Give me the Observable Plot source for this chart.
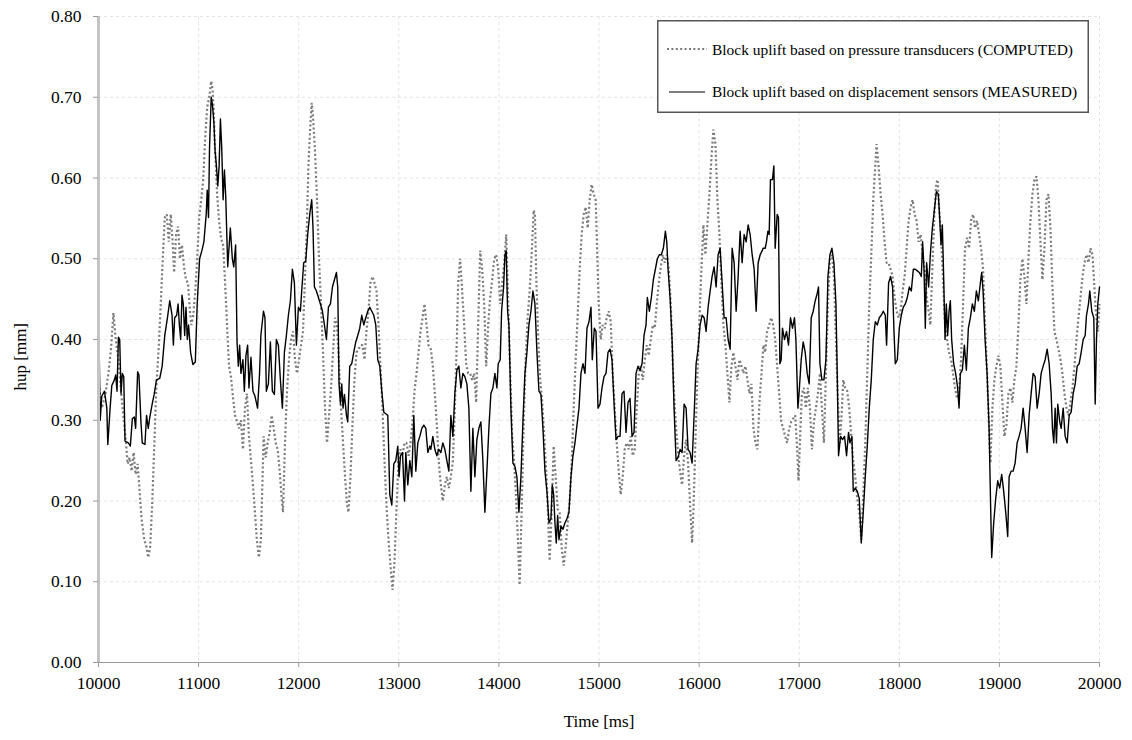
<!DOCTYPE html>
<html><head><meta charset="utf-8">
<script src="https://cdn.jsdelivr.net/npm/d3@7"></script>
<script src="https://cdn.jsdelivr.net/npm/@observablehq/plot@0.6"></script>
<style>
body{margin:0;background:#fff;}
#wrap{position:relative;width:1132px;height:740px;}
#legend{position:absolute;left:657px;top:20px;}
</style></head><body><div id="wrap"></div>
<script>
// Block uplift measured by displacement sensors: [time ms, uplift mm]
const measured = [
[10007,0.386],[10017,0.30],[10033,0.33],[10060,0.336],[10083,0.315],[10093,0.27],[10116,0.315],[10133,0.343],[10159,0.35],[10172,0.356],[10185,0.336],[10199,0.403],[10212,0.40],[10225,0.333],[10238,0.358],[10252,0.354],[10265,0.274],[10298,0.272],[10318,0.268],[10338,0.302],[10358,0.304],[10371,0.29],[10391,0.36],[10404,0.356],[10424,0.298],[10437,0.272],[10464,0.27],[10480,0.306],[10497,0.29],[10513,0.304],[10536,0.32],[10556,0.332],[10579,0.35],[10612,0.352],[10636,0.367],[10662,0.405],[10689,0.427],[10712,0.448],[10735,0.43],[10748,0.393],[10761,0.427],[10781,0.43],[10795,0.444],[10808,0.418],[10821,0.40],[10834,0.455],[10847,0.444],[10861,0.405],[10874,0.44],[10887,0.40],[10900,0.418],[10920,0.384],[10943,0.369],[10967,0.372],[10986,0.444],[11010,0.50],[11033,0.51],[11053,0.521],[11076,0.555],[11086,0.585],[11099,0.551],[11109,0.637],[11126,0.70],[11139,0.69],[11152,0.67],[11165,0.633],[11178,0.615],[11192,0.59],[11205,0.615],[11218,0.673],[11231,0.637],[11245,0.573],[11258,0.61],[11271,0.577],[11291,0.49],[11317,0.538],[11337,0.50],[11351,0.49],[11370,0.517],[11384,0.397],[11397,0.367],[11410,0.393],[11423,0.358],[11443,0.375],[11457,0.336],[11473,0.38],[11490,0.393],[11503,0.34],[11523,0.378],[11543,0.336],[11563,0.33],[11589,0.315],[11609,0.358],[11622,0.405],[11648,0.435],
[11663,0.427],[11677,0.336],[11697,0.345],[11717,0.397],[11737,0.336],[11757,0.332],[11777,0.40],[11797,0.393],[11817,0.35],[11837,0.315],[11857,0.384],[11877,0.405],[11897,0.43],[11917,0.448],[11937,0.487],[11957,0.47],[11977,0.393],[11997,0.44],[12017,0.435],[12030,0.46],[12050,0.495],[12070,0.497],[12090,0.53],[12110,0.555],[12130,0.573],[12143,0.538],[12157,0.465],[12177,0.46],[12197,0.452],[12217,0.444],[12237,0.435],[12257,0.418],[12277,0.40],[12297,0.44],[12317,0.444],[12337,0.465],[12357,0.474],[12377,0.483],[12390,0.465],[12403,0.345],[12417,0.32],[12430,0.345],[12443,0.315],[12457,0.332],[12477,0.306],[12490,0.298],[12510,0.367],[12530,0.37],[12550,0.384],[12570,0.397],[12590,0.405],[12610,0.414],[12630,0.43],[12650,0.418],[12670,0.427],[12690,0.435],[12710,0.44],[12730,0.435],[12750,0.43],[12770,0.418],[12790,0.375],[12810,0.367],[12830,0.336],[12850,0.31],[12870,0.308],[12890,0.306],[12910,0.208],[12930,0.195],[12950,0.246],[12970,0.25],[12990,0.268],[13003,0.23],[13017,0.256],[13037,0.26],[13057,0.20],[13070,0.26],[13090,0.22],[13110,0.25],[13130,0.23],[13150,0.306],[13170,0.237],[13190,0.272],[13210,0.28],[13230,0.29],[13250,0.294],[13270,0.29],[13290,0.26],[13310,0.268],
[13320,0.264],[13340,0.28],[13360,0.264],[13380,0.256],[13400,0.264],[13420,0.26],[13440,0.272],[13460,0.264],[13480,0.25],[13500,0.237],[13520,0.306],[13540,0.28],[13560,0.333],[13580,0.362],[13600,0.367],[13620,0.34],[13640,0.358],[13660,0.354],[13680,0.345],[13700,0.315],[13720,0.212],[13740,0.29],[13760,0.23],[13780,0.276],[13800,0.29],[13820,0.298],[13840,0.25],[13860,0.186],[13880,0.237],[13900,0.29],[13920,0.333],[13940,0.34],[13960,0.358],[13980,0.34],[13993,0.37],[14013,0.375],[14027,0.435],[14047,0.465],[14060,0.505],[14073,0.51],[14087,0.435],[14100,0.418],[14120,0.315],[14140,0.247],[14160,0.243],[14180,0.23],[14200,0.186],[14220,0.23],[14240,0.298],[14260,0.358],[14280,0.384],[14300,0.418],[14320,0.435],[14340,0.46],[14360,0.444],[14380,0.384],[14400,0.336],[14420,0.332],[14440,0.29],[14460,0.237],[14480,0.212],[14500,0.173],[14520,0.178],[14533,0.22],[14547,0.208],[14560,0.173],[14573,0.148],[14587,0.182],[14600,0.152],[14620,0.169],[14640,0.165],[14660,0.173],[14680,0.178],[14700,0.186],[14720,0.23],[14740,0.256],[14760,0.272],[14780,0.294],[14800,0.315],[14820,0.358],[14840,0.37],[14860,0.358],[14880,0.414],[14900,0.422],[14920,0.44],[14933,0.375],[14953,0.414],
[14970,0.41],[14990,0.315],[15010,0.32],[15030,0.34],[15050,0.354],[15070,0.358],[15090,0.384],[15110,0.388],[15130,0.375],[15150,0.322],[15170,0.276],[15190,0.28],[15210,0.28],[15230,0.333],[15250,0.336],[15270,0.285],[15290,0.322],[15310,0.327],[15330,0.28],[15350,0.285],[15370,0.358],[15390,0.367],[15410,0.362],[15430,0.37],[15450,0.405],[15470,0.418],[15483,0.452],[15503,0.435],[15523,0.452],[15543,0.474],[15563,0.487],[15583,0.50],[15603,0.505],[15623,0.505],[15643,0.513],[15663,0.534],[15677,0.521],[15690,0.487],[15710,0.452],[15730,0.40],[15750,0.315],[15770,0.25],[15790,0.254],[15810,0.264],[15830,0.26],[15850,0.32],[15870,0.315],[15890,0.264],[15910,0.26],[15930,0.247],[15950,0.306],[15970,0.37],[15990,0.388],[16010,0.418],[16030,0.43],[16050,0.427],[16070,0.41],[16090,0.44],[16110,0.46],[16130,0.478],[16150,0.49],[16170,0.465],[16190,0.505],[16210,0.513],[16230,0.47],[16250,0.427],[16270,0.427],[16290,0.40],[16310,0.388],[16330,0.513],[16350,0.495],[16370,0.435],[16390,0.478],[16410,0.534],[16430,0.495],[16450,0.53],[16470,0.521],[16490,0.542],[16510,0.53],[16530,0.505],[16550,0.487],[16570,0.435],[16590,0.495],[16610,0.505],[16630,0.51],
[16640,0.513],[16660,0.513],[16673,0.521],[16687,0.534],[16700,0.53],[16713,0.598],[16733,0.598],[16747,0.615],[16760,0.513],[16780,0.555],[16793,0.551],[16807,0.37],[16820,0.375],[16833,0.414],[16853,0.40],[16873,0.41],[16893,0.393],[16913,0.427],[16933,0.414],[16953,0.427],[16967,0.40],[16987,0.315],[17000,0.336],[17020,0.375],[17040,0.397],[17060,0.384],[17080,0.358],[17100,0.345],[17120,0.427],[17140,0.435],[17160,0.448],[17180,0.457],[17193,0.465],[17207,0.37],[17227,0.35],[17247,0.35],[17267,0.375],[17287,0.478],[17307,0.505],[17327,0.513],[17347,0.495],[17367,0.444],[17380,0.358],[17393,0.256],[17413,0.28],[17433,0.276],[17453,0.28],[17473,0.256],[17493,0.285],[17507,0.272],[17527,0.28],[17540,0.212],[17560,0.216],[17580,0.212],[17600,0.203],[17620,0.148],[17640,0.186],[17660,0.23],[17680,0.268],[17700,0.315],[17720,0.35],[17740,0.40],[17760,0.422],[17780,0.418],[17800,0.427],[17820,0.43],[17840,0.435],[17860,0.43],[17873,0.393],[17893,0.47],[17913,0.478],[17933,0.465],[17947,0.41],[17960,0.37],[17980,0.375],[18000,0.414],[18020,0.43],[18040,0.44],[18060,0.444],[18080,0.452],[18100,0.465],[18120,0.46],[18140,0.487],[18160,0.487],[18180,0.485],[18200,0.483],[18220,0.478],[18233,0.521],[18247,0.487],[18260,0.414],[18273,0.495],[18293,0.465],
[18310,0.505],[18330,0.538],[18350,0.56],[18370,0.583],[18390,0.58],[18403,0.551],[18417,0.517],[18430,0.542],[18443,0.478],[18457,0.40],[18470,0.444],[18483,0.405],[18497,0.435],[18510,0.448],[18523,0.40],[18543,0.37],[18563,0.358],[18583,0.34],[18597,0.315],[18610,0.358],[18630,0.362],[18650,0.393],[18670,0.362],[18690,0.414],[18710,0.427],[18730,0.444],[18750,0.435],[18770,0.46],[18790,0.448],[18810,0.47],[18823,0.483],[18837,0.46],[18857,0.40],[18877,0.358],[18897,0.29],[18910,0.208],[18923,0.13],[18943,0.173],[18963,0.203],[18983,0.225],[19003,0.216],[19023,0.233],[19043,0.212],[19063,0.186],[19083,0.156],[19097,0.23],[19117,0.237],[19137,0.237],[19157,0.247],[19177,0.272],[19197,0.28],[19217,0.29],[19237,0.315],[19257,0.29],[19277,0.26],[19297,0.306],[19317,0.333],[19337,0.358],[19357,0.354],[19377,0.315],[19397,0.333],[19417,0.358],[19437,0.367],[19457,0.375],[19477,0.388],[19497,0.37],[19517,0.333],[19530,0.29],[19543,0.272],[19557,0.315],[19570,0.272],[19583,0.32],[19603,0.298],[19617,0.29],[19637,0.315],[19657,0.28],[19677,0.272],[19697,0.306],[19717,0.31],[19737,0.333],[19757,0.345],[19777,0.367],[19797,0.37],[19817,0.384],[19837,0.40],[19857,0.405],[19870,0.43],[19890,0.444],[19903,0.46],[19923,0.435],[19943,0.427],[19957,0.32],[19970,0.40],[19983,0.444],[20000,0.465]
];

// Block uplift computed from pressure transducers: [time ms, uplift mm]
const computed = [
[10007,0.34],[10033,0.315],[10066,0.33],[10099,0.358],[10126,0.39],[10149,0.433],[10172,0.40],[10199,0.375],[10225,0.336],[10248,0.306],[10272,0.276],[10291,0.246],[10311,0.254],[10331,0.237],[10351,0.26],[10371,0.233],[10391,0.246],[10411,0.212],[10430,0.178],[10457,0.152],[10480,0.143],[10497,0.13],[10516,0.143],[10536,0.195],[10556,0.264],[10576,0.336],[10603,0.393],[10622,0.444],[10642,0.50],[10662,0.551],[10682,0.555],[10702,0.521],[10722,0.555],[10742,0.517],[10755,0.483],[10775,0.53],[10795,0.54],[10814,0.50],[10834,0.517],[10854,0.49],[10874,0.474],[10894,0.47],[10914,0.435],[10927,0.418],[10947,0.43],[10967,0.46],[10986,0.50],[11006,0.551],[11026,0.573],[11046,0.598],[11066,0.65],[11086,0.688],[11106,0.70],[11126,0.72],[11139,0.71],[11152,0.68],[11165,0.633],[11185,0.58],[11205,0.546],[11225,0.525],[11245,0.517],[11265,0.47],[11284,0.418],[11304,0.367],[11324,0.353],[11344,0.328],[11364,0.306],[11384,0.298],[11404,0.29],[11423,0.30],[11443,0.264],[11463,0.315],[11483,0.333],[11503,0.28],[11523,0.25],[11543,0.22],[11563,0.186],[11582,0.152],[11602,0.13],[11622,0.152],
[11650,0.28],[11670,0.254],[11690,0.272],[11710,0.285],[11730,0.306],[11750,0.29],[11770,0.272],[11790,0.264],[11810,0.237],[11830,0.203],[11843,0.186],[11863,0.272],[11883,0.336],[11903,0.375],[11923,0.40],[11943,0.41],[11963,0.375],[11983,0.358],[12003,0.375],[12023,0.393],[12043,0.41],[12063,0.478],[12083,0.547],[12097,0.615],[12117,0.667],[12130,0.693],[12143,0.676],[12163,0.633],[12183,0.573],[12203,0.50],[12223,0.444],[12243,0.384],[12263,0.315],[12283,0.272],[12303,0.306],[12323,0.34],[12343,0.384],[12363,0.427],[12383,0.418],[12403,0.367],[12423,0.315],[12443,0.272],[12463,0.23],[12483,0.195],[12497,0.186],[12517,0.23],[12537,0.294],[12557,0.35],[12577,0.384],[12597,0.388],[12617,0.393],[12637,0.393],[12657,0.375],[12677,0.41],[12697,0.435],[12717,0.47],[12737,0.478],[12757,0.47],[12777,0.46],[12797,0.418],[12817,0.367],[12837,0.315],[12857,0.25],[12877,0.195],[12897,0.152],[12917,0.12],[12937,0.09],[12957,0.124],[12977,0.19],[12997,0.25],[13017,0.264],[13037,0.256],[13057,0.272],[13077,0.272],[13097,0.256],[13117,0.272],[13137,0.298],[13157,0.336],[13177,0.358],[13197,0.384],[13217,0.41],[13237,0.427],[13257,0.444],[13277,0.418],[13297,0.393],
[13320,0.388],[13340,0.367],[13360,0.333],[13380,0.294],[13400,0.247],[13420,0.22],[13440,0.20],[13460,0.22],[13480,0.23],[13500,0.216],[13520,0.23],[13540,0.25],[13560,0.315],[13580,0.40],[13593,0.47],[13613,0.50],[13633,0.46],[13653,0.418],[13673,0.37],[13693,0.358],[13713,0.358],[13733,0.35],[13753,0.358],[13773,0.322],[13793,0.418],[13813,0.51],[13833,0.487],[13853,0.444],[13873,0.367],[13893,0.418],[13913,0.452],[13933,0.474],[13953,0.50],[13973,0.505],[13993,0.487],[14013,0.444],[14033,0.47],[14053,0.495],[14073,0.53],[14093,0.444],[14113,0.358],[14133,0.28],[14153,0.247],[14173,0.20],[14193,0.143],[14207,0.096],[14227,0.186],[14247,0.294],[14267,0.375],[14287,0.427],[14307,0.46],[14327,0.505],[14347,0.56],[14360,0.555],[14373,0.478],[14393,0.40],[14413,0.35],[14433,0.322],[14453,0.28],[14473,0.237],[14493,0.178],[14507,0.126],[14527,0.186],[14547,0.268],[14567,0.23],[14587,0.19],[14607,0.186],[14627,0.143],[14647,0.12],[14667,0.143],[14687,0.173],[14707,0.20],[14727,0.247],[14747,0.315],[14767,0.375],[14787,0.43],[14807,0.487],[14827,0.53],[14847,0.555],[14867,0.564],[14887,0.538],[14907,0.573],[14927,0.592],[14947,0.58],[14967,0.573],
[14983,0.505],[14997,0.444],[15017,0.40],[15037,0.418],[15057,0.414],[15077,0.427],[15097,0.435],[15117,0.422],[15137,0.358],[15157,0.315],[15177,0.272],[15197,0.237],[15217,0.208],[15237,0.23],[15257,0.264],[15277,0.272],[15297,0.264],[15317,0.28],[15337,0.256],[15357,0.264],[15377,0.315],[15397,0.358],[15417,0.367],[15437,0.35],[15457,0.375],[15477,0.393],[15497,0.38],[15517,0.40],[15537,0.418],[15557,0.414],[15577,0.444],[15597,0.47],[15617,0.49],[15637,0.505],[15657,0.495],[15677,0.505],[15697,0.487],[15717,0.444],[15737,0.37],[15757,0.315],[15777,0.28],[15797,0.25],[15817,0.23],[15830,0.22],[15850,0.256],[15870,0.276],[15890,0.247],[15910,0.195],[15930,0.148],[15943,0.186],[15963,0.272],[15983,0.358],[16003,0.422],[16023,0.487],[16043,0.542],[16063,0.505],[16083,0.542],[16103,0.58],[16123,0.625],[16143,0.66],[16163,0.642],[16183,0.573],[16203,0.53],[16223,0.47],[16243,0.418],[16263,0.393],[16283,0.358],[16303,0.322],[16323,0.367],[16343,0.384],[16363,0.367],[16383,0.35],[16403,0.375],[16423,0.367],[16443,0.358],[16463,0.367],[16483,0.35],[16503,0.333],[16523,0.345],[16543,0.29],[16563,0.272],[16583,0.264],[16603,0.322],[16623,0.358],[16643,0.393],
[16660,0.384],[16680,0.41],[16700,0.418],[16720,0.427],[16740,0.418],[16760,0.40],[16780,0.367],[16800,0.333],[16820,0.298],[16840,0.29],[16860,0.28],[16880,0.272],[16900,0.29],[16920,0.298],[16940,0.302],[16960,0.306],[16980,0.264],[16993,0.225],[17007,0.272],[17027,0.333],[17047,0.34],[17067,0.315],[17087,0.34],[17107,0.315],[17127,0.264],[17147,0.298],[17167,0.315],[17187,0.333],[17207,0.358],[17227,0.315],[17247,0.272],[17267,0.358],[17287,0.444],[17307,0.50],[17327,0.505],[17347,0.478],[17367,0.40],[17387,0.322],[17407,0.272],[17427,0.315],[17440,0.35],[17460,0.34],[17480,0.336],[17500,0.315],[17520,0.28],[17540,0.25],[17560,0.23],[17580,0.203],[17600,0.186],[17620,0.152],[17640,0.208],[17660,0.272],[17680,0.358],[17700,0.444],[17720,0.505],[17740,0.573],[17760,0.615],[17773,0.642],[17793,0.615],[17813,0.58],[17833,0.555],[17853,0.521],[17873,0.495],[17893,0.495],[17913,0.487],[17933,0.478],[17953,0.452],[17973,0.435],[17993,0.427],[18013,0.435],[18033,0.46],[18053,0.478],[18073,0.513],[18093,0.547],[18113,0.564],[18133,0.573],[18153,0.555],[18173,0.547],[18193,0.521],[18213,0.53],[18233,0.505],[18253,0.487],[18273,0.452],[18293,0.435],
[18310,0.418],[18330,0.487],[18350,0.555],[18370,0.594],[18383,0.598],[18397,0.564],[18417,0.53],[18437,0.474],[18457,0.418],[18477,0.40],[18497,0.384],[18517,0.375],[18537,0.358],[18557,0.34],[18577,0.327],[18597,0.336],[18617,0.375],[18637,0.444],[18657,0.513],[18677,0.526],[18697,0.513],[18717,0.547],[18737,0.555],[18757,0.538],[18777,0.547],[18797,0.53],[18817,0.513],[18837,0.487],[18857,0.418],[18877,0.358],[18897,0.29],[18910,0.247],[18930,0.315],[18950,0.35],[18970,0.367],[18990,0.38],[19010,0.367],[19030,0.322],[19050,0.28],[19070,0.294],[19090,0.333],[19110,0.34],[19130,0.322],[19150,0.35],[19170,0.367],[19190,0.418],[19210,0.474],[19230,0.50],[19250,0.478],[19270,0.444],[19290,0.50],[19310,0.547],[19330,0.58],[19350,0.598],[19370,0.602],[19390,0.573],[19410,0.521],[19430,0.474],[19450,0.513],[19470,0.573],[19490,0.58],[19510,0.538],[19530,0.465],[19550,0.41],[19570,0.40],[19590,0.388],[19610,0.375],[19630,0.358],[19650,0.333],[19670,0.315],[19690,0.306],[19710,0.322],[19730,0.34],[19750,0.367],[19770,0.40],[19790,0.427],[19810,0.452],[19830,0.478],[19850,0.495],[19870,0.505],[19890,0.495],[19910,0.513],[19930,0.505],[19943,0.478],[19963,0.435],[19983,0.41],[20000,0.444]
];

const yTicks = [0, 0.1, 0.2, 0.3, 0.4, 0.5, 0.6, 0.7, 0.8];
const xTicks = [10000, 11000, 12000, 13000, 14000, 15000, 16000, 17000, 18000, 19000, 20000];
const seriesLabels = [
  "Block uplift based on pressure transducers (COMPUTED)",
  "Block uplift based on displacement sensors (MEASURED)"
];
const xTitle = "Time [ms]";
const yTitle = "hup [mm]";

const serif = "'Liberation Serif', 'Times New Roman', serif";

const chart = Plot.plot({
  width: 1132,
  height: 740,
  marginLeft: 98,
  marginRight: 33,
  marginTop: 16,
  marginBottom: 78,
  style: {fontFamily: serif, fontSize: "17.5px", color: "#000", background: "#fff", overflow: "visible"},
  x: {domain: [10000, 20000]},
  y: {domain: [0, 0.8]},
  marks: [
    Plot.gridX(xTicks.slice(1), {stroke: "#e4e4e4", strokeOpacity: 1, strokeDasharray: "3,3"}),
    Plot.gridY(yTicks.slice(1), {stroke: "#e4e4e4", strokeOpacity: 1, strokeDasharray: "3,3"}),
    Plot.line(computed, {x: d => d[0], y: d => d[1], stroke: "#7a7a7a", strokeWidth: 2.2, strokeDasharray: "2,2.4", strokeLinecap: "butt", strokeLinejoin: "miter"}),
    Plot.line(measured, {x: d => d[0], y: d => d[1], stroke: "#000", strokeWidth: 1.4}),
    Plot.ruleY([0], {stroke: "#9a9a9a", strokeWidth: 1}),
    Plot.ruleX([10000], {stroke: "#c4c4c4", strokeWidth: 3}),
    Plot.axisY(yTicks, {tickSize: 5, tickPadding: 12, tickFormat: d3.format(".2f"), stroke: "#9a9a9a", label: null}),
    Plot.axisX(xTicks, {tickSize: 5, tickPadding: 9, tickFormat: d => String(d), stroke: "#9a9a9a", label: null}),
    Plot.text([yTitle], {frameAnchor: "left", rotate: -90, dx: -78, dy: 51, fontSize: 17, fill: "#000"}),
    Plot.text([xTitle], {frameAnchor: "bottom", dy: 64, fontSize: 17, fill: "#000"})
  ]
});

const wrap = document.getElementById("wrap");
wrap.appendChild(chart);

// Legend box (overlaid inside the plot area, top right)
const ns = "http://www.w3.org/2000/svg";
const lg = document.createElementNS(ns, "svg");
lg.setAttribute("id", "legend");
lg.setAttribute("width", 432);
lg.setAttribute("height", 93);
lg.innerHTML = `
  <rect x="0.75" y="0.75" width="430.5" height="91.5" fill="#fff" stroke="#555" stroke-width="1.5"/>
  <line x1="10" x2="50" y1="29" y2="29" stroke="#7a7a7a" stroke-width="2.2" stroke-dasharray="2,2.4"/>
  <line x1="12" x2="48" y1="72" y2="72" stroke="#000" stroke-width="1"/>
  <text x="55" y="35" font-family="${serif}" font-size="15" textLength="361" lengthAdjust="spacingAndGlyphs">${seriesLabels[0]}</text>
  <text x="55" y="77" font-family="${serif}" font-size="15" textLength="365" lengthAdjust="spacingAndGlyphs">${seriesLabels[1]}</text>`;
wrap.appendChild(lg);
</script>
</body></html>
